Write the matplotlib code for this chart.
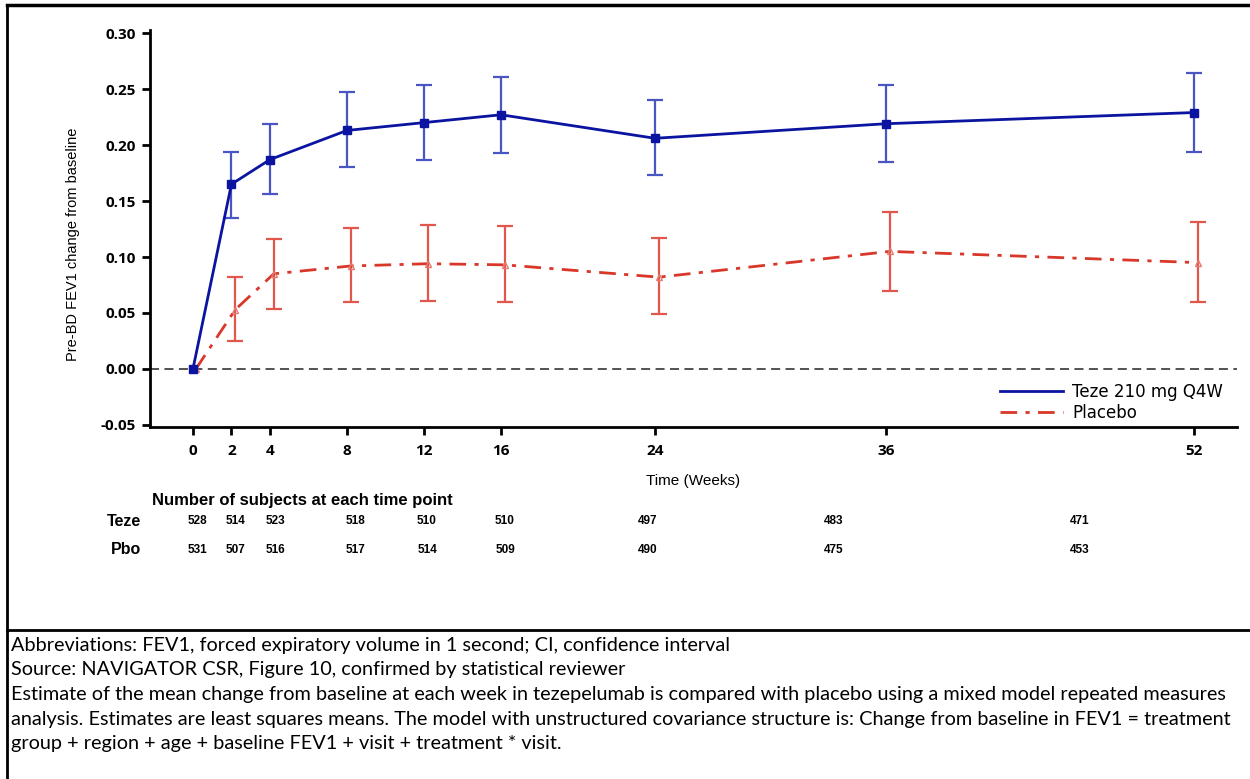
import numpy as np
import matplotlib
matplotlib.use("Agg")
import matplotlib.pyplot as plt
from matplotlib.lines import Line2D

weeks = [0, 2, 4, 8, 12, 16, 24, 36, 52]

teze_mean = [0.000, 0.165, 0.187, 0.213, 0.220, 0.227, 0.206, 0.219, 0.229]
teze_lo = [0.000, 0.135, 0.156, 0.180, 0.187, 0.193, 0.173, 0.185, 0.194]
teze_hi = [0.000, 0.194, 0.219, 0.247, 0.254, 0.261, 0.240, 0.254, 0.264]

pbo_mean = [0.000, 0.053, 0.085, 0.092, 0.094, 0.093, 0.082, 0.105, 0.095]
pbo_lo = [0.000, 0.025, 0.054, 0.060, 0.061, 0.060, 0.049, 0.070, 0.060]
pbo_hi = [0.000, 0.082, 0.116, 0.126, 0.129, 0.128, 0.117, 0.140, 0.131]

teze_n = [528, 514, 523, 518, 510, 510, 497, 483, 471]
pbo_n = [531, 507, 516, 517, 514, 509, 490, 475, 453]

yticks = [-0.05, 0.00, 0.05, 0.10, 0.15, 0.20, 0.25, 0.30]

footnotes = [
    "Abbreviations: FEV1, forced expiratory volume in 1 second; CI, confidence interval",
    "Source: NAVIGATOR CSR, Figure 10, confirmed by statistical reviewer",
    "Estimate of the mean change from baseline at each week in tezepelumab is compared with placebo using a mixed model repeated measures",
    "analysis. Estimates are least squares means. The model with unstructured covariance structure is: Change from baseline in FEV1 = treatment",
    "group + region + age + baseline FEV1 + visit + treatment * visit.",
]

# pixel columns of the counts table (layout only)
count_cols = [197, 236, 275, 356, 427, 505, 648, 834, 1080]

W, H = 1250, 779
BLUE = "#0a14a0"
BLUE_BAR = "#4a55c4"
RED = "#d8372a"
RED_BAR = "#e2574c"
PBO_DASH = (0, (6, 3, 1.5, 3))


def fx(px):
    return px / W


def fy(py):
    return 1 - py / H


def main():
    fig = plt.figure(figsize=(12.5, 7.79), dpi=100)

    ax = fig.add_axes([fx(150), fy(427), fx(1237) - fx(150), fy(30) - fy(427)])

    ax.axhline(0, color="#444444", lw=1.3, ls=(0, (5, 3)), zorder=1)

    x = np.array(weeks, dtype=float)
    t_err = [np.array(teze_mean) - np.array(teze_lo), np.array(teze_hi) - np.array(teze_mean)]
    p_err = [np.array(pbo_mean) - np.array(pbo_lo), np.array(pbo_hi) - np.array(pbo_mean)]

    ax.errorbar(x[1:], teze_mean[1:], yerr=[t_err[0][1:], t_err[1][1:]], fmt="none",
                ecolor=BLUE_BAR, elinewidth=1.6, capsize=6, capthick=1.6, zorder=2)
    ax.plot(x, teze_mean, color=BLUE, lw=2.0, marker="s", ms=6, mfc=BLUE, mec=BLUE, zorder=4)

    xp = x + 0.2
    xp[0] = x[0] + 0.15
    ax.errorbar(xp[1:], pbo_mean[1:], yerr=[p_err[0][1:], p_err[1][1:]], fmt="none",
                ecolor=RED_BAR, elinewidth=1.6, capsize=6, capthick=1.6, zorder=2)
    ax.plot(xp, pbo_mean, color=RED, lw=2.0, ls=PBO_DASH, marker="^", ms=5,
            mfc="none", mec="#e77a70", mew=1.0, zorder=3)

    ax.set_xlim(-2.23, 54.23)
    ax.set_ylim(-0.0518, 0.3027)
    ax.set_xticks(weeks)
    ax.set_yticks(yticks)
    ax.set_yticklabels([f"{v:.2f}" for v in yticks])
    for s in ["top", "right"]:
        ax.spines[s].set_visible(False)
    for s in ["left", "bottom"]:
        ax.spines[s].set_linewidth(2.0)
    ax.tick_params(axis="both", direction="out", length=6, width=2.0, pad=4)
    for lab in ax.get_xticklabels() + ax.get_yticklabels():
        lab.set_fontfamily("Open Sans")
        lab.set_fontweight("bold")
        lab.set_fontsize(11)
    ax.tick_params(axis="x", pad=6)

    fig.text(fx(73), fy(244), "Pre-BD FEV1 change from baseline", rotation=90,
             ha="center", va="center", fontsize=10.5, family="Liberation Sans")
    fig.text(fx(693), fy(481), "Time (Weeks)", ha="center", va="center",
             fontsize=11, family="Liberation Sans")

    handles = [Line2D([], [], color=BLUE, lw=2.0),
               Line2D([], [], color=RED, lw=2.0, ls=PBO_DASH)]
    ax.legend(handles, ["Teze 210 mg Q4W", "Placebo"], loc="upper left",
              bbox_to_anchor=(fx(1000), fy(383)), bbox_transform=fig.transFigure,
              frameon=False, fontsize=12, handlelength=3.8, handletextpad=0.55,
              labelspacing=0.15, borderaxespad=0, borderpad=0)

    # counts table
    fig.text(fx(152), fy(500), "Number of subjects at each time point", ha="left", va="center",
             fontsize=12, fontweight="bold", family="Liberation Sans")
    fig.text(fx(141), fy(521), "Teze", ha="right", va="center", fontsize=11.5,
             fontweight="bold", family="Liberation Sans")
    fig.text(fx(141), fy(550), "Pbo", ha="right", va="center", fontsize=11.5,
             fontweight="bold", family="Liberation Sans")
    for cx, a, b in zip(count_cols, teze_n, pbo_n):
        fig.text(fx(cx), fy(521), str(a), ha="center", va="center", fontsize=8.5,
                 fontweight="bold", family="Liberation Sans")
        fig.text(fx(cx), fy(550), str(b), ha="center", va="center", fontsize=8.5,
                 fontweight="bold", family="Liberation Sans")

    # frame lines
    fig.add_artist(Line2D([fx(7), fx(7)], [fy(5), fy(779)], color="black", lw=2.0))
    fig.add_artist(Line2D([fx(7), 1.0], [fy(5), fy(5)], color="black", lw=2.5))
    fig.add_artist(Line2D([fx(7), 1.0], [fy(630), fy(630)], color="black", lw=2.0))

    for i, line in enumerate(footnotes):
        fig.text(fx(11), fy(645 + i * 24.7), line, ha="left", va="center",
                 fontsize=14.3, family="Lato")

    plt.savefig("out.png", dpi=100)


if __name__ == "__main__":
    main()
